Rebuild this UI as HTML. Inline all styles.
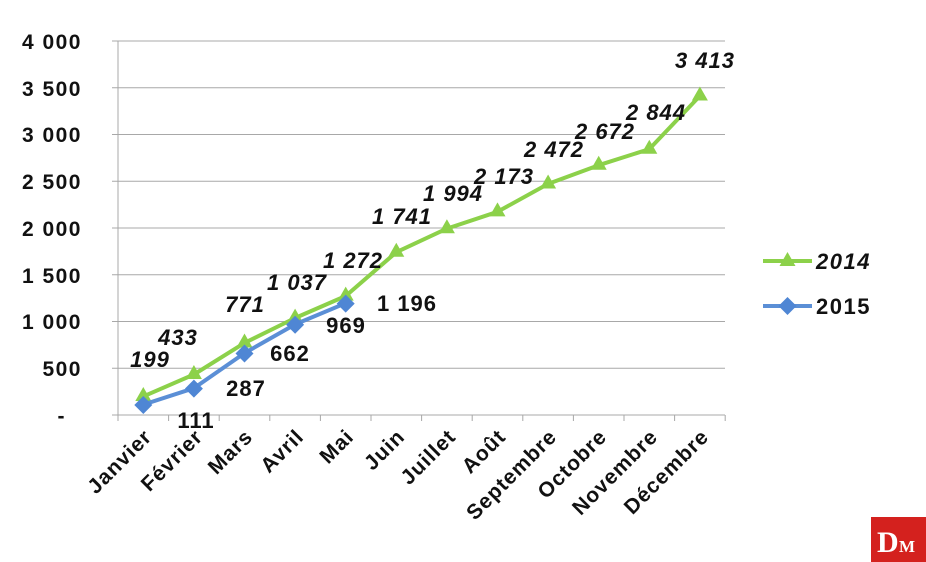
<!DOCTYPE html>
<html><head><meta charset="utf-8"><style>body{margin:0;background:#fff}svg{display:block}text{font-family:"Liberation Sans",Arial,sans-serif;font-weight:bold;fill:#111}</style></head><body>
<svg width="926" height="562" viewBox="0 0 926 562">
<g stroke="#a8a8a8" stroke-width="1">
<line x1="112" y1="41" x2="725" y2="41"/><line x1="112" y1="87.75" x2="725" y2="87.75"/><line x1="112" y1="134.5" x2="725" y2="134.5"/><line x1="112" y1="181.25" x2="725" y2="181.25"/><line x1="112" y1="228" x2="725" y2="228"/><line x1="112" y1="274.75" x2="725" y2="274.75"/><line x1="112" y1="321.5" x2="725" y2="321.5"/><line x1="112" y1="368.25" x2="725" y2="368.25"/><line x1="112" y1="415" x2="725" y2="415"/>
<line x1="118" y1="41" x2="118" y2="415"/>
<path d="M118 415v6M168.6 415v6M219.2 415v6M269.8 415v6M320.4 415v6M371 415v6M421.6 415v6M472.2 415v6M522.8 415v6M573.4 415v6M624 415v6M674.6 415v6M725.2 415v6"/>
</g>
<g font-size="21" text-anchor="end" letter-spacing="1.5">
<text x="82" y="49">4 000</text><text x="82" y="96">3 500</text><text x="82" y="142">3 000</text><text x="82" y="189">2 500</text><text x="82" y="236">2 000</text><text x="82" y="283">1 500</text><text x="82" y="329">1 000</text><text x="82" y="376">500</text><text x="66" y="423">-</text>
</g>
<g font-size="21" text-anchor="end" letter-spacing="1">
<text transform="translate(153,438) rotate(-45)">Janvier</text>
<text transform="translate(204,438) rotate(-45)">Février</text>
<text transform="translate(254,438) rotate(-45)">Mars</text>
<text transform="translate(305,438) rotate(-45)">Avril</text>
<text transform="translate(355,438) rotate(-45)">Mai</text>
<text transform="translate(406,438) rotate(-45)">Juin</text>
<text transform="translate(457,438) rotate(-45)">Juillet</text>
<text transform="translate(507,438) rotate(-45)">Août</text>
<text transform="translate(558,438) rotate(-45)">Septembre</text>
<text transform="translate(608,438) rotate(-45)">Octobre</text>
<text transform="translate(659,438) rotate(-45)">Novembre</text>
<text transform="translate(710,438) rotate(-45)">Décembre</text>
</g>
<polyline fill="none" stroke="#8cd14a" stroke-width="4" stroke-linejoin="round" points="143.3,396.4 193.9,374.5 244.5,342.9 295.1,318 345.7,296 396.3,252.2 446.9,228.6 497.5,211.8 548.1,183.9 598.7,165.2 649.3,149.1 699.9,95.9"/>
<g fill="#8cd14a">
<path d="M143.3 387l8 14h-16z"/><path d="M193.9 365l8 14h-16z"/><path d="M244.5 333.5l8 14h-16z"/><path d="M295.1 308.6l8 14h-16z"/><path d="M345.7 286.6l8 14h-16z"/><path d="M396.3 242.8l8 14h-16z"/><path d="M446.9 219.2l8 14h-16z"/><path d="M497.5 202.4l8 14h-16z"/><path d="M548.1 174.5l8 14h-16z"/><path d="M598.7 155.8l8 14h-16z"/><path d="M649.3 139.7l8 14h-16z"/><path d="M699.9 86.5l8 14h-16z"/>
</g>
<polyline fill="none" stroke="#5b8fd6" stroke-width="4" stroke-linejoin="round" points="143.3,404.6 193.9,388.2 244.5,353.1 295.1,324.4 345.7,303.2"/>
<g fill="#4f86d4">
<path d="M143.3 396l9 9-9 9-9-9z"/><path d="M193.9 379.6l9 9-9 9-9-9z"/><path d="M244.5 344.5l9 9-9 9-9-9z"/><path d="M295.1 315.8l9 9-9 9-9-9z"/><path d="M345.7 294.6l9 9-9 9-9-9z"/>
</g>
<g font-size="22" font-style="italic" text-anchor="middle" letter-spacing="1">
<text x="150" y="367">199</text><text x="178" y="345">433</text><text x="245" y="312">771</text><text x="297" y="290">1 037</text><text x="353" y="268">1 272</text><text x="402" y="224">1 741</text><text x="453" y="201">1 994</text><text x="504" y="184">2 173</text><text x="554" y="157">2 472</text><text x="605" y="139">2 672</text><text x="656" y="120">2 844</text><text x="705" y="68">3 413</text>
</g>
<g font-size="22" text-anchor="middle" letter-spacing="1">
<text x="196" y="428">111</text><text x="246" y="396">287</text><text x="290" y="361">662</text><text x="346" y="333">969</text><text x="407" y="311">1 196</text>
</g>
<line x1="763" y1="261" x2="812" y2="261" stroke="#8cd14a" stroke-width="4"/>
<path d="M787.5 252l8 14h-16z" fill="#8cd14a"/>
<text x="816" y="269" font-size="22" font-style="italic" letter-spacing="1.5">2014</text>
<line x1="763" y1="306" x2="812" y2="306" stroke="#5b8fd6" stroke-width="4"/>
<path d="M787.5 297l9 9-9 9-9-9z" fill="#4f86d4"/>
<text x="816" y="314" font-size="22" letter-spacing="1.5">2015</text>
<rect x="871" y="517" width="55" height="45" fill="#d4211e"/>
<text x="877" y="552" font-size="30" style="fill:#fff;font-family:'Liberation Serif',serif">D</text>
<text x="899" y="552" font-size="17" style="fill:#fff;font-family:'Liberation Serif',serif">M</text>
</svg>
</body></html>
